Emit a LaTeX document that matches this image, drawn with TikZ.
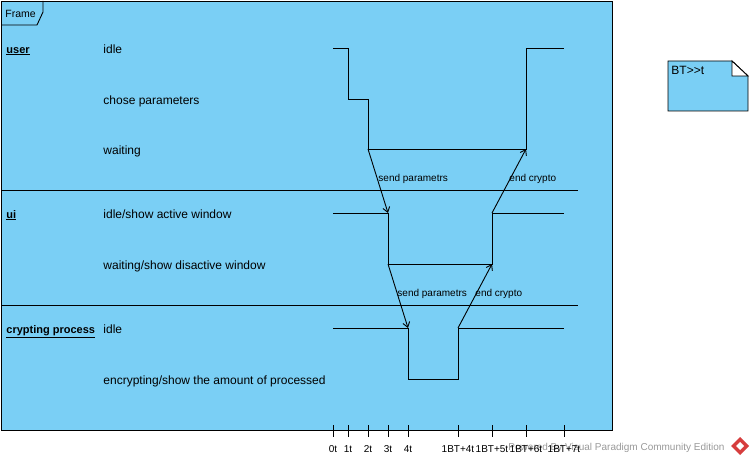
\documentclass[tikz,border=0pt]{standalone}
\usepackage{fontspec}
\setmainfont{Liberation Sans}
\usetikzlibrary{arrows.meta}
\definecolor{vpblue}{RGB}{122,207,245}
\definecolor{vpred}{RGB}{214,62,62}
\tikzset{
	lbl/.style = {anchor = west, inner sep = 0pt, font = \fontsize{12}{14}\selectfont, text height = 8.6pt, text depth = 2.5pt, yshift = -2pt},
	lane/.style = {lbl, font = \bfseries\fontsize{11}{13}\selectfont},
	small/.style = {inner sep = 0pt, font = \fontsize{10}{12}\selectfont, text height = 7.2pt, text depth = 2pt, yshift = -1.5pt},
	msg/.style = {-{Straight Barb[length = 5pt, width = 7pt]}},
}
\begin{document}
\begin{tikzpicture}[x = 1pt, y = -1pt, line width = .9pt]
					\useasboundingbox (0,0) rectangle (752,462);
					% frame
					\draw[fill = vpblue] (1,1) rectangle (612,430);
					\draw (1,25)--(37,25)--(43,12)--(43,1);
					\node[small, anchor = west, font = \fontsize{10.5}{12}\selectfont] (frame) at (5,13) {Frame};
					\draw (1,190)--(578,190);
					\draw (1,305)--(578,305);
					% lanes and states
					\node[lane] (user) at (6,48) {\underline{user}};
					\node[lane] (ui) at (6,213) {\underline{ui}};
					\node[lane] (crypt) at (6,328) {\underline{crypting process}};
					\node[lbl] (uidle) at (103,48) {idle};
					\node[lbl] (uchose) at (103,99) {chose parameters};
					\node[lbl] (uwait) at (103,149) {waiting};
					\node[lbl] (iidle) at (103,213) {idle/show active window};
					\node[lbl] (iwait) at (103,264) {waiting/show disactive window};
					\node[lbl] (cidle) at (103,328) {idle};
					\node[lbl] (cenc) at (103,379) {encrypting/show the amount of processed};
					% timelines
					\coordinate (uw) at (368,149);
					\coordinate (ue) at (526,149);
					\coordinate (ia) at (388,213);
					\coordinate (ib) at (388,264);
					\coordinate (ic) at (492,264);
					\coordinate (id) at (492,213);
					\coordinate (ca) at (408,328);
					\coordinate (cb) at (458,328);
					\draw (333,48)--(348,48)--(348,99)--(368,99)--(uw)--(ue)--(526,48)--(564,48);
					\draw (333,213)--(ia)--(ib)--(ic)--(id)--(564,213);
					\draw (333,328)--(ca)--(408,379)--(458,379)--(cb)--(564,328);
					% messages
					\draw[msg] (uw)--(ia);
					\draw[msg] (id)--(ue);
					\draw[msg] (ib)--(ca);
					\draw[msg] (cb)--(ic);
					\node[small, anchor = west] (m1) at (378,177) {send parametrs};
					\node[small, anchor = west] (m2) at (509,177) {end crypto};
					\node[small, anchor = west] (m3) at (397,292) {send parametrs};
					\node[small, anchor = west] (m4) at (475,292) {end crypto};
					% time axis
					\node[small, anchor = west, text = black!40] (vp) at (508,446) {Powered By Visual Paradigm Community Edition};
					\fill[vpred] (740,437)--(749,446)--(740,455)--(731,446)--cycle;
					\fill[white] (740,442)--(744,446)--(740,450)--(736,446)--cycle;
					\foreach \x/\t [count = \i] in {333/0t, 348/1t, 368/2t, 388/3t, 408/4t, 458/1BT+4t, 492/1BT+5t, 526/1BT+6t, 564/1BT+7t}
						\draw (\x,425)--(\x,437) node[small, anchor = north] (tick\i) at (\x,443) {\t};
					% note
					\draw[fill = vpblue] (668,61)--(732,61)--(748,76)--(748,111)--(668,111)--cycle;
					\draw[fill = white] (732,61)--(732,76)--(748,76)--cycle;
					\node[lbl, anchor = north west] (note) at (671,63) {BT>{}>t};
				\end{tikzpicture}
\end{document}
